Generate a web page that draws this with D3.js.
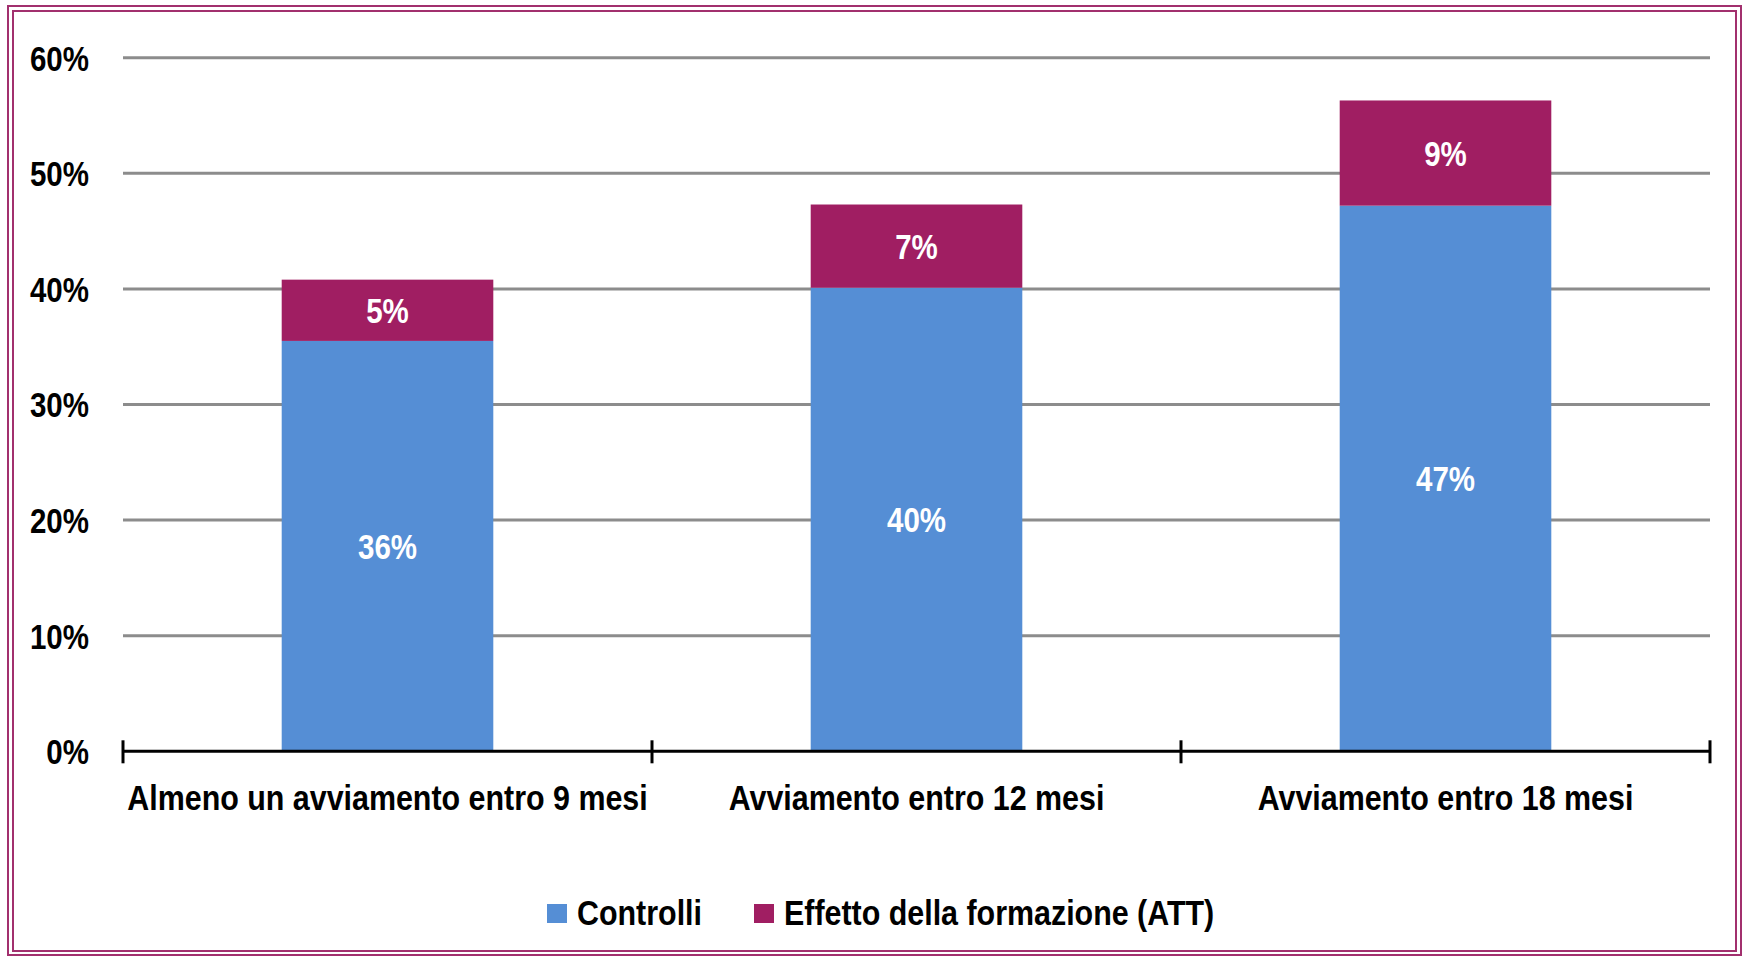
<!DOCTYPE html>
<html>
<head>
  <meta charset="utf-8">
  <title>Avviamenti - stacked bar</title>
  <style>
  body { margin: 0; background: #fff; }
  text {
    font-family: "Liberation Sans", Arial, sans-serif;
    font-weight: bold;
    font-size: 36px;
  }
  .grid line { stroke: #8c8c8c; stroke-width: 3px; }
  .frame { fill: none; stroke: #a2306e; stroke-width: 2px; }
  </style>
</head>
<body>
  <div id="chart"></div>
  <script src="https://cdn.jsdelivr.net/npm/d3@7"></script>
  <script>
  //data
  var categories = ["Almeno un avviamento entro 9 mesi", "Avviamento entro 12 mesi", "Avviamento entro 18 mesi"];
  var controlli = [35.5, 40.1, 47.2];
  var effetto = [5.3, 7.2, 9.1];
  var seriesNames = ["Controlli", "Effetto della formazione (ATT)"];
  var yTicks = [0, 10, 20, 30, 40, 50, 60];

  var colors = ["#558ed5", "#a01e62"];
  var width = 1747, height = 957;
  //no narrow font installed, so squeeze a normal one to fake Arial Narrow
  var narrowNum = 0.82, narrowWord = 0.845;

  function place(xf, yf, k) {
    return function(d, i) {
      return "translate(" + xf(d, i) + "," + yf(d, i) + ") scale(" + k + ",1)";
    };
  }

  var svg = d3.select("#chart")
    .append("svg")
    .attr("width", width)
    .attr("height", height);

  //double frame round the chart
  svg.append("rect").attr("class", "frame")
    .attr("x", 8).attr("y", 6).attr("width", 1733).attr("height", 949);
  svg.append("rect").attr("class", "frame")
    .attr("x", 13).attr("y", 11).attr("width", 1723).attr("height", 940);

  //scales
  var x = d3.scaleBand()
    .domain(categories)
    .range([123, 1710])
    .paddingInner(0.6)
    .paddingOuter(0.3);

  var y = d3.scaleLinear()
    .domain([0, 60])
    .range([751.3, 57.7]);

  //gridlines
  svg.append("g")
    .attr("class", "grid")
    .selectAll("line")
    .data(yTicks.filter(function(d) { return d > 0; }))
    .enter().append("line")
    .attr("x1", 123).attr("x2", 1710)
    .attr("y1", function(d) { return y(d); })
    .attr("y2", function(d) { return y(d); });

  //y tick labels
  svg.append("g")
    .selectAll("text")
    .data(yTicks)
    .enter().append("text")
    .attr("transform", place(function() { return 89; }, function(d) { return y(d); }, narrowNum))
    .attr("dy", "0.36em")
    .attr("text-anchor", "end")
    .attr("fill", "#000")
    .text(function(d) { return d + "%"; });

  //stacked data
  var rows = categories.map(function(c, i) {
    return { cat: c, Controlli: controlli[i], ATT: effetto[i] };
  });
  var stack = d3.stack().keys(["Controlli", "ATT"])(rows);

  var layers = svg.selectAll(".layer")
    .data(stack)
    .enter().append("g")
    .attr("class", "layer")
    .attr("fill", function(d, i) { return colors[i]; });

  layers.selectAll("rect")
    .data(function(d) { return d; })
    .enter().append("rect")
    .attr("x", function(d) { return x(d.data.cat); })
    .attr("width", x.bandwidth())
    .attr("y", function(d) { return y(d[1]); })
    .attr("height", function(d) { return y(d[0]) - y(d[1]); });

  //value labels
  layers.selectAll("text")
    .data(function(d) { return d; })
    .enter().append("text")
    .attr("transform", place(
      function(d) { return x(d.data.cat) + x.bandwidth() / 2; },
      function(d) { return y((d[0] + d[1]) / 2); }, narrowNum))
    .attr("dy", "0.36em")
    .attr("text-anchor", "middle")
    .attr("fill", "#fff")
    .text(function(d) { return Math.round(d[1] - d[0]) + "%"; });

  //x axis: line with ticks at category boundaries
  var step = x.step();
  var x0 = 123;
  svg.append("line")
    .attr("x1", x0).attr("x2", 1710)
    .attr("y1", y(0)).attr("y2", y(0))
    .attr("stroke", "#000").attr("stroke-width", 3);
  svg.append("g")
    .selectAll("line")
    .data(d3.range(categories.length + 1))
    .enter().append("line")
    .attr("x1", function(i) { return x0 + i * step; })
    .attr("x2", function(i) { return x0 + i * step; })
    .attr("y1", y(0) - 11).attr("y2", y(0) + 12)
    .attr("stroke", "#000").attr("stroke-width", 3);

  //category labels
  svg.append("g")
    .selectAll("text")
    .data(categories)
    .enter().append("text")
    .attr("transform", place(
      function(d) { return x(d) + x.bandwidth() / 2; },
      function() { return 810; }, narrowWord))
    .attr("text-anchor", "middle")
    .attr("fill", "#000")
    .text(function(d) { return d; });

  //legend
  var legendX = [547, 754];
  var legend = svg.selectAll(".legend")
    .data(seriesNames)
    .enter().append("g")
    .attr("class", "legend")
    .attr("transform", function(d, i) { return "translate(" + legendX[i] + ",904)"; });
  legend.append("rect")
    .attr("width", 20).attr("height", 19)
    .attr("fill", function(d, i) { return colors[i]; });
  legend.append("text")
    .attr("transform", "translate(30,21) scale(" + narrowWord + ",1)")
    .attr("fill", "#000")
    .text(function(d) { return d; });
  </script>
</body>
</html>
